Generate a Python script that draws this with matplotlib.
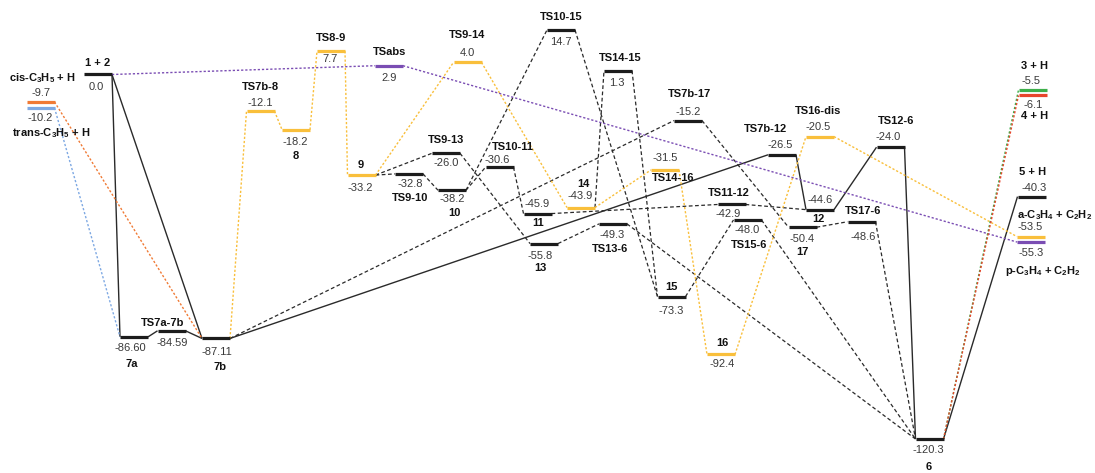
import matplotlib
matplotlib.use("Agg")
import matplotlib.pyplot as plt

plt.rcParams['font.family'] = 'Liberation Sans'
plt.rcParams['mathtext.fontset'] = 'custom'
plt.rcParams['mathtext.rm'] = 'Liberation Sans:bold'
plt.rcParams['mathtext.it'] = 'Liberation Sans:bold:italic'
plt.rcParams['mathtext.bf'] = 'Liberation Sans:bold'

# species / stationary points and relative energies (kcal/mol)
keys = ['cis', 'trans', '1+2', '7a', 'TS7a-7b', '7b', 'TS7b-8', '8', 'TS8-9', '9',
        'TSabs', 'TS9-10', 'TS9-13', '10', 'TS9-14', 'TS10-11', '11', '13', 'TS10-15', '14',
        'TS13-6', 'TS14-15', 'TS14-16', '15', 'TS7b-17', '16', 'TS11-12', 'TS15-6', 'TS7b-12', '17',
        '12', 'TS16-dis', 'TS17-6', 'TS12-6', '6', '3+H', '4+H', '5+H', 'a-C3H4', 'p-C3H4']
names = ['cis-C$_3$H$_5$ + H', 'trans-C$_3$H$_5$ + H', '1 + 2', '7a', 'TS7a-7b', '7b',
         'TS7b-8', '8', 'TS8-9', '9', 'TSabs', 'TS9-10', 'TS9-13', '10', 'TS9-14', 'TS10-11',
         '11', '13', 'TS10-15', '14', 'TS13-6', 'TS14-15', 'TS14-16', '15', 'TS7b-17', '16',
         'TS11-12', 'TS15-6', 'TS7b-12', '17', '12', 'TS16-dis', 'TS17-6', 'TS12-6', '6',
         '3 + H', '4 + H', '5 + H', 'a-C$_3$H$_4$ + C$_2$H$_2$', 'p-C$_3$H$_4$ + C$_2$H$_2$']
energies = [-9.7, -10.2, 0.0, -86.60, -84.59, -87.11, -12.1, -18.2, 7.7, -33.2,
            2.9, -32.8, -26.0, -38.2, 4.0, -30.6, -45.9, -55.8, 14.7, -43.9,
            -49.3, 1.3, -31.5, -73.3, -15.2, -92.4, -42.9, -48.0, -26.5, -50.4,
            -44.6, -20.5, -48.6, -24.0, -120.3, -5.5, -6.1, -40.3, -53.5, -55.3]
decimals = {'7a': 2, 'TS7a-7b': 2, '7b': 2}

# reaction pathways: (from, to)
solid_paths = [('1+2', '7a'), ('1+2', '7b'), ('7a', 'TS7a-7b'), ('TS7a-7b', '7b'),
               ('7b', 'TS7b-12'), ('TS7b-12', '12'), ('12', 'TS12-6'), ('TS12-6', '6'),
               ('6', '5+H')]
dashed_paths = [('9', 'TS9-10'), ('9', 'TS9-13'), ('TS9-10', '10'), ('TS9-13', '13'),
                ('10', 'TS10-11'), ('10', 'TS10-15'), ('TS10-11', '11'), ('TS10-15', '15'),
                ('11', 'TS11-12'), ('TS11-12', '12'), ('13', 'TS13-6'), ('TS13-6', '6'),
                ('14', 'TS14-15'), ('TS14-15', '15'), ('15', 'TS15-6'), ('TS15-6', '6'),
                ('7b', 'TS7b-17'), ('TS7b-17', '17'), ('17', 'TS17-6'), ('TS17-6', '6')]
dotted_paths = [('trans', '7a'), ('cis', '7b'),
                ('7b', 'TS7b-8'), ('TS7b-8', '8'), ('8', 'TS8-9'), ('TS8-9', '9'),
                ('9', 'TS9-14'), ('TS9-14', '14'), ('14', 'TS14-16'), ('TS14-16', '16'),
                ('16', 'TS16-dis'), ('TS16-dis', 'a-C3H4'),
                ('1+2', 'TSabs'), ('TSabs', 'p-C3H4'), ('6', '3+H'), ('6', '4+H')]

# layout: level centre (px), colour, label offsets (dx, dy in px, +dy = down)
xpos = [40.5, 40.5, 98, 134, 171.5, 216, 260.5, 296, 331, 361.5,
        389, 409, 446, 452, 467.5, 499.5, 537.5, 544, 561, 581,
        613, 618, 665, 671.5, 688, 721, 731.5, 747.5, 782, 802.5,
        820, 820, 861.5, 890.5, 929.5, 1032.5, 1032.5, 1031.5, 1031, 1031]
K, Y, P = '#1c1c1c', '#f9bf3b', '#7a4db3'
colors = ['#f07a35', '#7fa9e3', K, K, K, K, Y, Y, Y, Y,
          P, K, K, K, Y, K, K, K, K, Y,
          K, K, Y, K, K, Y, K, K, K, K,
          K, Y, K, K, K, '#3daf4a', '#e8452c', K, Y, P]
name_off = [(2, -24), (11, 25), (0, -12), (-2, 27), (-9, -8), (4, 29), (0, -24), (0, 26), (0, -13), (-1, -10),
            (1, -14), (1, 24), (0, -13), (2, 23), (0, -27), (13, -20), (1, 9), (-4, 24), (0, -13), (2, -24),
            (-3, 25), (2, -13), (8, 8), (0, -10), (2, -27), (1, -11), (-3, -11), (2, 25), (-17, -26), (0, 25),
            (-2, 9), (-2, -26), (2, -11), (6, -26), (-1, 28), (2, -24), (2, 21), (1, -25), (24, -22), (12, 29)]
value_off = [(0, -9), (0, 10), (-2, 12), (-4, 11), (1, 12), (1, 14), (0, -8), (-1, 12), (-1, 8), (-1, 13),
             (0, 12), (1, 10), (0, 10), (0, 9), (0, -9), (-2, -7), (0, -10), (-4, 12), (0, 12), (-1, -12),
             (-1, 11), (-1, 12), (0, -12), (0, 14), (0, -9), (1, 10), (-3, 10), (0, 10), (-2, -10), (0, 12),
             (0, -10), (-2, -10), (2, 15), (-2, -10), (-1, 11), (-1, -9), (1, 10), (3, -9), (-1, -10), (0, 11)]
# small vertical dodge (px) for levels that would sit on top of each other
nudge = {'cis': -2, 'trans': 2.5, '3+H': -1.2, '4+H': 2.5}

W, H = 1095, 473
PX_PER_UNIT = 3.03
Y0 = 74.5                       # pixel row of the 0.0 level
HALF = 14

fig = plt.figure(figsize=(W / 100, H / 100), dpi=100)
ax = fig.add_axes([0, 0, 1, 1])
ax.set_xlim(0, W)
ax.set_ylim(-(H - Y0) / PX_PER_UNIT, Y0 / PX_PER_UNIT)
ax.axis('off')

lev = {}
for i, k in enumerate(keys):
    y = energies[i] - nudge.get(k, 0) / PX_PER_UNIT
    lev[k] = (xpos[i], y, colors[i])


def connect(a, b, **kw):
    xa, ya, _ = lev[a]
    xb, yb, _ = lev[b]
    ax.plot([xa + HALF, xb - HALF], [ya, yb], zorder=1, **kw)


for a, b in solid_paths:
    connect(a, b, color='#2a2a2a', lw=1.0, solid_capstyle='butt')
for a, b in dashed_paths:
    connect(a, b, color='#2a2a2a', lw=0.9, dashes=(3, 2))
for a, b in dotted_paths:
    c = lev[b][2] if lev[b][2] != K else lev[a][2]
    connect(a, b, color=c, lw=1.0, dashes=(1.6, 1.4))

for i, k in enumerate(keys):
    x, y, c = lev[k]
    ax.plot([x - HALF, x + HALF], [y, y], color=c, lw=2.3,
            solid_capstyle='butt', zorder=3)
    ax.annotate(names[i], (x, y), xytext=(name_off[i][0], -name_off[i][1]),
                textcoords='offset pixels', ha='center', va='center',
                fontsize=8, fontweight='bold', color='#111111', zorder=4)
    d = decimals.get(k, 1)
    ax.annotate(f'{energies[i]:.{d}f}', (x, y),
                xytext=(value_off[i][0], -value_off[i][1]),
                textcoords='offset pixels', ha='center', va='center',
                fontsize=8, color='#3a3a3a', zorder=4)

fig.savefig('out.png', dpi=100)
